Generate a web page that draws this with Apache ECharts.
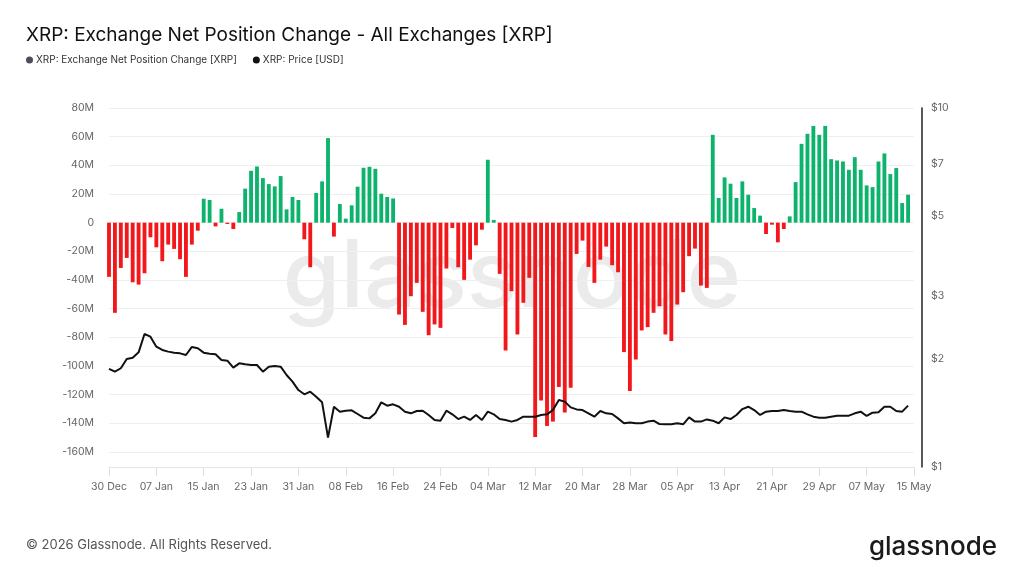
<!DOCTYPE html>
<html>
<head>
<meta charset="utf-8">
<script src="https://cdn.jsdelivr.net/npm/echarts@6/dist/echarts.min.js"></script>
<style>
html,body{margin:0;padding:0;background:#fff;}
#b{width:1024px;height:576px;}
</style>
</head>
<body>
<div id="b"></div>
<script>
// day labels, 30 Dec -> 15 May
var monthSpans = [['Dec',30,31],['Jan',1,31],['Feb',1,28],['Mar',1,31],['Apr',1,30],['May',1,15]];
var days = [];
monthSpans.forEach(function(m){
  for (var d = m[1]; d <= m[2]; d++) days.push((d < 10 ? '0' : '') + d + ' ' + m[0]);
});

// net position change, millions of XRP (last day of axis has no value yet)
var netChange = [
  -37.8,-62.9,-31.6,-24.6,-41.6,-43.2,-35.3,-10.2,-17.2,-26.9,
  -15.3,-18.3,-25.5,-37.8,-15.3,-5.6,16.7,15.8,-2.6,9.7,
  -0.9,-4.4,7.4,23.7,36.2,39.2,31.1,26.9,25.3,32.5,
  9.3,17.9,15.8,-11.6,-31.1,20.7,28.8,59.0,-9.7,13.0,
  2.8,12.1,25.1,38.3,39.0,37.6,20.2,17.9,16.9,-64.1,
  -71.3,-51.3,-42.0,-62.2,-78.5,-71.0,-73.4,-32.0,-3.7,-31.1,
  -39.9,-25.8,-15.8,-4.9,43.9,1.9,-35.7,-89.1,-47.8,-78.0,
  -55.9,-38.5,-149.5,-124.0,-141.8,-138.8,-114.7,-132.5,-115.1,-21.8,
  -12.5,-30.9,-42.0,-25.8,-16.7,-29.7,-34.6,-90.3,-117.5,-95.4,
  -75.2,-72.9,-62.9,-58.3,-78.0,-82.6,-57.1,-48.5,-23.4,-18.1,
  -43.9,-45.5,61.3,17.2,31.6,27.2,17.2,28.8,19.5,10.2,
  4.9,-7.9,-1.4,-13.7,-4.4,4.4,28.3,55.0,62.0,67.5,
  61.3,67.5,44.3,43.4,42.7,36.9,45.7,36.9,26.0,24.8,
  42.7,48.3,33.9,38.1,13.7,19.5
];

// XRP price, USD
var price = [
  1.876,1.843,1.884,2.000,2.016,2.086,2.347,2.307,2.164,2.118,
  2.096,2.082,2.073,2.051,2.160,2.141,2.082,2.068,2.060,1.987,
  1.978,1.891,1.944,1.932,1.924,1.924,1.843,1.903,1.911,1.903,
  1.804,1.729,1.638,1.594,1.621,1.570,1.514,1.207,1.472,1.426,
  1.435,1.438,1.405,1.372,1.366,1.411,1.514,1.482,1.495,1.472,
  1.426,1.411,1.432,1.435,1.396,1.352,1.346,1.435,1.402,1.360,
  1.381,1.352,1.396,1.352,1.426,1.402,1.360,1.352,1.338,1.352,
  1.381,1.381,1.381,1.396,1.402,1.441,1.537,1.521,1.466,1.447,
  1.441,1.411,1.381,1.432,1.411,1.405,1.366,1.324,1.331,1.324,
  1.324,1.338,1.346,1.317,1.315,1.315,1.324,1.315,1.375,1.338,
  1.338,1.357,1.346,1.324,1.375,1.360,1.396,1.450,1.472,1.441,
  1.396,1.426,1.432,1.432,1.441,1.432,1.426,1.426,1.402,1.381,
  1.372,1.372,1.381,1.390,1.390,1.390,1.411,1.426,1.387,1.417,
  1.420,1.472,1.472,1.432,1.426,1.482
];

var priceTicks = [1, 2, 3, 5, 7, 10];

var FONT = 'Inter';
var myChart = echarts.init(document.getElementById('b'));
option = {
  backgroundColor: '#fff',
  animation: false,
  title: {
    text: 'XRP: Exchange Net Position Change - All Exchanges [XRP]',
    left: 26, top: 26, padding: 0,
    textStyle: {fontFamily: FONT, fontSize: 19, fontWeight: 'normal', color: '#111'}
  },
  legend: {
    left: 26, top: 55, padding: 0,
    icon: 'circle', itemWidth: 7, itemHeight: 7, itemGap: 16,
    textStyle: {fontFamily: FONT, fontSize: 10, color: '#333', padding: [0, 0, 0, -2]},
    data: [
      {name: 'XRP: Exchange Net Position Change [XRP]', itemStyle: {color: '#4d4d58'}},
      {name: 'XRP: Price [USD]', itemStyle: {color: '#111'}}
    ]
  },
  // two overlapping grids: bars on -160M..80M, price on a $1..$10 log axis that reaches lower
  grid: [
    {left: 109, right: 110, top: 108, bottom: 124},
    {left: 109, right: 110, top: 108, bottom: 109}
  ],
  xAxis: [
    {type: 'category', gridIndex: 0, data: days, boundaryGap: false, show: false},
    {
      type: 'category', gridIndex: 1, data: days, boundaryGap: false,
      axisLine: {onZero: false, lineStyle: {color: '#e6e6e6'}},
      axisTick: {interval: 7, length: 9, lineStyle: {color: '#e0e0e0'}},
      axisLabel: {interval: 7, margin: 14, fontFamily: FONT, fontSize: 10.5, color: '#666'}
    }
  ],
  yAxis: [
    {
      type: 'value', gridIndex: 0, min: -160, max: 80, interval: 20,
      axisLine: {show: false}, axisTick: {show: false},
      splitLine: {lineStyle: {color: '#efefef'}},
      axisLabel: {
        margin: 15, fontFamily: FONT, fontSize: 10.5, color: '#666',
        formatter: function(v){ return v === 0 ? '0' : v + 'M'; }
      }
    },
    {
      type: 'log', gridIndex: 1, logBase: 10, min: 1, max: 10, position: 'right', offset: 8,
      axisLine: {show: true, lineStyle: {color: '#222', width: 1.5}},
      axisTick: {show: false},
      splitLine: {show: false},
      axisLabel: {
        margin: 9, fontFamily: FONT, fontSize: 10.5, color: '#666',
        customValues: priceTicks,
        formatter: function(v){ return '$' + Math.round(v); }
      }
    }
  ],
  graphic: [
    {
      type: 'text', left: 'center', top: 233, z: 0, silent: true,
      style: {text: 'glassnode', fontFamily: FONT, fontSize: 93, fontWeight: 500, fill: '#ebebeb'}
    },
    {
      type: 'text', left: 26, top: 539,
      style: {text: '\u00a9 2026 Glassnode. All Rights Reserved.', fontFamily: FONT, fontSize: 13, fill: '#555'}
    },
    {
      type: 'text', right: 27, top: 534,
      style: {text: 'glassnode', fontFamily: FONT, fontSize: 26, fontWeight: 500, fill: '#1a1a1a'}
    }
  ],
  series: [
    {
      name: 'XRP: Exchange Net Position Change [XRP]',
      type: 'bar', xAxisIndex: 0, yAxisIndex: 0,
      data: netChange,
      barCategoryGap: '35%',
      itemStyle: {
        color: function(p){ return p.value >= 0 ? '#0db36d' : '#f2171a'; }
      }
    },
    {
      name: 'XRP: Price [USD]',
      type: 'line', xAxisIndex: 1, yAxisIndex: 1,
      data: price,
      symbol: 'none',
      lineStyle: {color: '#111', width: 2},
      itemStyle: {color: '#111'}
    }
  ]
};
option && myChart.setOption(option);
</script>
</body>
</html>
